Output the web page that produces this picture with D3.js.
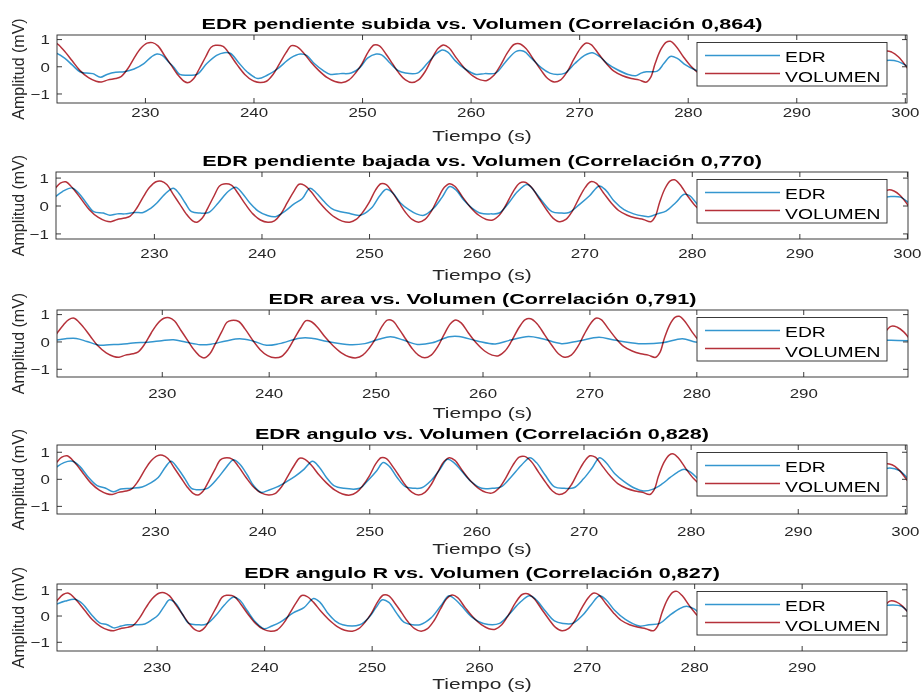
<!DOCTYPE html>
<html>
<head>
<meta charset="utf-8">
<script src="https://cdn.jsdelivr.net/npm/d3@7"></script>
<style>
  html, body { margin: 0; padding: 0; background: #fff; }
  svg { display: block; font-family: "Liberation Sans", Arial, Helvetica, sans-serif; }
</style>
</head>
<body>
<svg id="fig" width="923" height="693"></svg>
<script>
// ---------- data ----------
const panelTitles = [
  "EDR pendiente subida vs. Volumen (Correlación 0,864)",
  "EDR pendiente bajada vs. Volumen (Correlación 0,770)",
  "EDR area vs. Volumen (Correlación 0,791)",
  "EDR angulo vs. Volumen (Correlación 0,828)",
  "EDR angulo R vs. Volumen (Correlación 0,827)"
];
const seriesNames = ["EDR", "VOLUMEN"];
const xLabel = "Tiempo (s)";
const yLabel = "Amplitud (mV)";
const xTicks = [230, 240, 250, 260, 270, 280, 290, 300];
const yTicks = [-1, 0, 1];

// visible time window (s) and amplitude window (mV) of each subplot
const timeWindows = [[221.9, 300.2], [220.9, 300.1], [220.2, 299.8], [220.85, 300.2], [220.73, 299.8]];
const ampWindows = [[-1.35, 1.15], [-1.2, 1.2], [-1.3, 1.15], [-1.3, 1.25], [-1.35, 1.2]];

// respiratory volume signal [time s, amplitude]
const volumen = [
  [220.0,0.2],[220.2,0.3],[220.8,0.6],[221.3,0.8],[221.8,0.85],[222.5,0.6],[223.3,0.2],[224.0,-0.15],
  [224.8,-0.42],[225.5,-0.55],[226.0,-0.58],[226.6,-0.5],[227.3,-0.45],[227.8,-0.38],[228.4,-0.1],
  [229.0,0.3],[229.6,0.65],[230.2,0.85],[230.7,0.87],[231.2,0.75],[231.8,0.4],[232.4,0.05],[233.0,-0.3],
  [233.6,-0.55],[234.0,-0.6],[234.5,-0.45],[235.0,-0.1],[235.6,0.35],[236.1,0.7],[236.5,0.77],[237.2,0.73],
  [237.8,0.45],[238.5,0.05],[239.2,-0.3],[239.9,-0.52],[240.6,-0.6],[241.2,-0.55],[241.8,-0.3],[242.4,0.1],
  [243.0,0.5],[243.5,0.76],[244.0,0.72],[244.6,0.5],[245.3,0.15],[246.0,-0.15],[246.8,-0.42],[247.5,-0.56],
  [248.2,-0.6],[248.8,-0.5],[249.4,-0.25],[250.0,0.1],[250.6,0.55],[251.1,0.78],[251.6,0.75],[252.2,0.45],
  [252.8,0.1],[253.4,-0.25],[254.0,-0.5],[254.6,-0.6],[255.2,-0.5],[255.8,-0.2],[256.4,0.25],[257.0,0.65],
  [257.5,0.78],[258.0,0.68],[258.7,0.3],[259.4,-0.05],[260.2,-0.35],[260.9,-0.5],[261.5,-0.52],[262.1,-0.35],
  [262.7,0.0],[263.4,0.5],[264.0,0.8],[264.5,0.83],[265.1,0.65],[265.8,0.25],[266.5,-0.15],[267.1,-0.45],
  [267.7,-0.58],[268.3,-0.5],[268.9,-0.2],[269.5,0.25],[270.1,0.65],[270.6,0.85],[271.1,0.8],[271.8,0.45],
  [272.5,0.1],[273.2,-0.18],[274.0,-0.35],[274.8,-0.45],[275.5,-0.5],[276.2,-0.58],[276.6,-0.4],[277.0,0.1],
  [277.5,0.6],[278.0,0.88],[278.4,0.92],[278.9,0.75],[279.6,0.35],[280.3,0.0],[281.0,-0.25],[282.0,-0.45],
  [283.5,-0.5],[285.0,0.0],[286.5,0.55],[288.0,0.1],[289.5,-0.45],[291.0,-0.2],[292.5,0.5],[294.0,0.1],
  [295.5,-0.45],[297.0,0.0],[298.2,0.55],[298.8,0.52],[299.4,0.35],[300.3,-0.1]
];

// ECG-derived respiration, one signal per method [time s, amplitude]
const edrSubida = [
  [221.5,0.5],[221.9,0.47],[222.6,0.3],[223.3,0.05],[224.0,-0.2],[224.6,-0.25],[225.2,-0.27],[225.9,-0.4],
  [226.5,-0.3],[227.3,-0.22],[228.1,-0.2],[229.0,-0.1],[229.9,0.1],[230.6,0.35],[231.1,0.45],[231.6,0.4],
  [232.2,0.15],[232.7,-0.05],[233.2,-0.3],[234.0,-0.33],[234.8,-0.3],[235.7,0.1],[236.6,0.4],[237.3,0.5],
  [237.9,0.47],[238.6,0.15],[239.4,-0.2],[240.4,-0.45],[241.3,-0.32],[242.2,-0.1],[243.4,0.3],[244.3,0.45],
  [244.9,0.4],[245.6,0.1],[246.4,-0.15],[247.1,-0.3],[248.0,-0.27],[249.0,-0.25],[249.8,-0.05],[250.5,0.3],
  [251.3,0.45],[251.8,0.42],[252.5,0.15],[253.3,-0.15],[254.0,-0.25],[255.1,-0.25],[256.0,0.1],[256.8,0.45],
  [257.4,0.6],[257.9,0.52],[258.6,0.2],[259.5,-0.1],[260.5,-0.3],[261.3,-0.27],[262.3,-0.25],[263.2,0.15],
  [264.2,0.55],[264.9,0.55],[265.6,0.3],[266.5,-0.05],[267.3,-0.25],[268.0,-0.3],[268.7,-0.25],[269.6,0.1],
  [270.5,0.4],[271.2,0.5],[271.9,0.35],[272.6,0.1],[273.4,-0.1],[274.5,-0.3],[275.2,-0.35],[275.7,-0.25],
  [276.2,-0.2],[277.2,-0.18],[277.8,0.1],[278.4,0.36],[279.0,0.3],[279.8,0.05],[280.5,-0.1],[281.2,-0.2],
  [283.0,-0.1],[286.0,0.3],[289.0,-0.1],[292.0,0.25],[295.0,-0.1],[297.5,0.15],[298.6,0.22],[299.4,0.17],
  [300.3,-0.02]
];
const edrBajada = [
  [220.8,0.3],[221.5,0.5],[222.4,0.63],[223.0,0.45],[223.7,0.1],[224.4,-0.22],[225.3,-0.27],[225.9,-0.35],
  [226.6,-0.3],[227.3,-0.3],[228.2,-0.25],[229.0,-0.25],[229.7,-0.1],[230.3,0.1],[231.0,0.4],[231.8,0.62],
  [232.3,0.45],[232.9,0.1],[233.5,-0.22],[234.3,-0.27],[235.1,-0.25],[236.0,0.1],[236.9,0.5],[237.6,0.65],
  [238.2,0.45],[238.9,0.1],[239.7,-0.2],[240.5,-0.35],[241.3,-0.4],[242.2,-0.2],[243.0,0.05],[243.8,0.25],
  [244.5,0.62],[245.1,0.45],[245.8,0.15],[246.5,-0.1],[247.1,-0.2],[248.0,-0.27],[249.2,-0.35],[250.2,-0.1],
  [251.0,0.35],[251.6,0.58],[252.2,0.45],[252.9,0.1],[253.7,-0.15],[254.4,-0.3],[255.1,-0.35],[256.0,-0.1],
  [256.8,0.3],[257.5,0.68],[258.1,0.55],[258.8,0.2],[259.6,-0.1],[260.4,-0.28],[261.3,-0.3],[262.1,-0.27],
  [263.0,0.1],[263.8,0.5],[264.7,0.75],[265.3,0.55],[266.1,0.15],[267.0,-0.22],[267.8,-0.27],[268.6,-0.25],
  [269.6,0.05],[270.5,0.35],[271.4,0.7],[272.0,0.55],[272.8,0.15],[273.7,-0.15],[274.6,-0.3],[275.5,-0.38],
  [276.0,-0.4],[276.8,-0.3],[277.6,-0.2],[278.5,0.1],[279.3,0.4],[279.8,0.35],[280.5,0.05],[281.2,-0.2],
  [283.0,-0.1],[286.0,0.3],[289.0,-0.1],[292.0,0.3],[295.0,-0.1],[297.5,0.25],[298.5,0.32],[299.4,0.3],
  [300.3,0.05]
];
const edrArea = [
  [220.1,0.05],[221.0,0.1],[222.0,0.11],[223.0,0.0],[224.2,-0.14],[225.1,-0.12],[226.2,-0.1],[227.3,-0.06],
  [228.9,-0.02],[230.0,0.03],[231.1,0.06],[232.3,-0.03],[233.6,-0.12],[234.6,-0.1],[236.0,0.02],[237.3,0.1],
  [238.5,0.02],[239.8,-0.14],[241.0,-0.08],[242.9,0.12],[244.0,0.12],[245.5,0.0],[247.6,-0.12],[249.0,-0.08],
  [250.3,0.08],[251.4,0.17],[252.6,0.05],[253.9,-0.11],[255.3,-0.05],[256.9,0.17],[257.8,0.18],[259.5,0.02],
  [261.2,-0.09],[262.6,0.05],[264.3,0.18],[265.6,0.1],[267.4,-0.08],[269.0,0.02],[270.9,0.15],[272.3,0.05],
  [274.6,-0.08],[276.8,-0.05],[278.7,0.1],[279.9,-0.02],[281.0,-0.05],[285.0,0.08],[290.0,-0.05],[295.0,0.08],
  [298.2,0.04],[300.0,0.02]
];
const edrAngulo = [
  [220.7,0.4],[221.5,0.6],[222.3,0.65],[223.0,0.45],[223.8,0.05],[224.6,-0.25],[225.4,-0.35],[226.1,-0.48],
  [226.8,-0.38],[227.8,-0.35],[228.8,-0.3],[229.6,-0.15],[230.3,0.05],[231.0,0.45],[231.5,0.65],[232.1,0.4],
  [232.8,0.0],[233.4,-0.35],[234.2,-0.4],[234.9,-0.35],[235.8,0.0],[236.6,0.4],[237.3,0.7],[237.9,0.55],
  [238.6,0.15],[239.2,-0.25],[239.9,-0.5],[240.6,-0.42],[241.4,-0.3],[242.3,-0.1],[243.1,0.1],[243.9,0.35],
  [244.7,0.65],[245.3,0.45],[246.0,0.05],[246.7,-0.25],[247.6,-0.35],[249.1,-0.35],[249.9,-0.05],[250.7,0.3],
  [251.3,0.6],[251.9,0.45],[252.6,0.05],[253.4,-0.3],[254.2,-0.35],[254.9,-0.33],[255.8,-0.05],[256.6,0.35],
  [257.3,0.72],[257.9,0.6],[258.6,0.3],[259.5,-0.1],[260.5,-0.35],[261.5,-0.35],[262.3,-0.3],[263.2,0.05],
  [264.2,0.5],[265.0,0.78],[265.6,0.6],[266.4,0.15],[267.3,-0.3],[268.2,-0.35],[269.1,-0.33],[270.0,0.0],
  [270.8,0.4],[271.5,0.78],[272.1,0.6],[272.9,0.2],[273.8,-0.1],[274.8,-0.35],[275.6,-0.45],[276.5,-0.38],
  [277.3,-0.2],[278.1,0.05],[278.8,0.25],[279.4,0.35],[280.0,0.25],[280.8,-0.05],[281.3,-0.2],[283.0,-0.1],
  [286.0,0.35],[289.0,-0.1],[292.0,0.35],[295.0,-0.1],[297.5,0.3],[298.6,0.4],[299.5,0.3],[300.3,0.0]
];
const edrAnguloR = [
  [220.6,0.42],[221.5,0.55],[222.4,0.62],[223.1,0.45],[223.9,0.05],[224.7,-0.28],[225.4,-0.35],[226.0,-0.47],
  [226.7,-0.4],[227.3,-0.35],[228.1,-0.35],[228.9,-0.32],[229.6,-0.15],[230.1,0.0],[230.7,0.35],[231.2,0.6],
  [231.8,0.45],[232.4,0.05],[233.0,-0.3],[233.8,-0.35],[234.6,-0.33],[235.5,0.0],[236.3,0.4],[237.1,0.7],
  [237.7,0.6],[238.4,0.2],[239.2,-0.25],[240.0,-0.5],[240.7,-0.4],[241.5,-0.25],[242.7,0.1],[243.7,0.3],
  [244.6,0.65],[245.2,0.5],[245.9,0.1],[246.6,-0.2],[247.3,-0.35],[248.9,-0.35],[249.8,-0.05],[250.4,0.3],
  [251.0,0.6],[251.6,0.5],[252.3,0.1],[253.0,-0.25],[253.8,-0.35],[254.5,-0.35],[255.5,-0.1],[256.4,0.35],
  [257.2,0.75],[257.8,0.6],[258.4,0.35],[259.3,-0.05],[260.4,-0.3],[261.9,-0.3],[262.8,0.05],[263.8,0.5],
  [264.7,0.75],[265.3,0.6],[266.2,0.15],[267.0,-0.2],[267.8,-0.3],[268.7,-0.3],[269.6,0.0],[270.4,0.4],
  [271.2,0.75],[271.8,0.6],[272.6,0.2],[273.6,-0.15],[274.9,-0.4],[275.8,-0.35],[276.8,-0.3],[277.7,0.0],
  [278.6,0.25],[279.3,0.35],[280.0,0.25],[280.7,0.0],[281.3,-0.2],[283.0,-0.1],[286.0,0.35],[289.0,-0.1],
  [292.0,0.35],[295.0,-0.1],[297.5,0.35],[298.5,0.4],[299.3,0.35],[300.0,0.1]
];
const edrSeries = [edrSubida, edrBajada, edrArea, edrAngulo, edrAnguloR];

// ---------- layout ----------
const boxes = [
  { top: 35,  bottom: 103, left: 57, right: 907 },
  { top: 172, bottom: 239, left: 56, right: 908 },
  { top: 310, bottom: 377, left: 57, right: 908 },
  { top: 445, bottom: 514, left: 57, right: 907 },
  { top: 584, bottom: 651, left: 57, right: 907 }
];
const tickLabelGap = [14, 19, 21, 22, 21];
const xLabelGap = [38, 41, 41, 40, 38];

const ink = "#262626";
const edrColor = "#3496cf";
const volColor = "#b5313a";
const lineWidth = 1.5;

// horizontal stretch of the typeset text
const titleSX = 1.44, tickSX = 1.25, labelSX = 1.4, legendSX = 1.38;

const svg = d3.select("#fig");
const defs = svg.append("defs");

function stretchedText(parent, x, y, str, size, sx, opts = {}) {
  return parent.append("text")
    .attr("transform", `translate(${x},${y}) ${opts.rotate ? "rotate(" + opts.rotate + ") " : ""}scale(${sx},1)`)
    .attr("text-anchor", opts.anchor || "middle")
    .attr("font-size", size)
    .attr("font-weight", opts.bold ? "bold" : "normal")
    .attr("fill", opts.fill || ink)
    .text(str);
}

panelTitles.forEach((title, i) => {
  const b = boxes[i];
  const x = d3.scaleLinear().domain(timeWindows[i]).range([b.left, b.right]);
  const y = d3.scaleLinear().domain(ampWindows[i]).range([b.bottom, b.top]);
  const g = svg.append("g").attr("class", "subplot");

  // plot area clip
  const clipId = "clip-" + i;
  defs.append("clipPath").attr("id", clipId)
    .append("rect")
    .attr("x", b.left).attr("y", b.top)
    .attr("width", b.right - b.left).attr("height", b.bottom - b.top);

  const line = d3.line()
    .x(d => x(d[0]))
    .y(d => y(d[1]))
    .curve(d3.curveCatmullRom.alpha(0.5));

  const plot = g.append("g").attr("clip-path", `url(#${clipId})`).style("isolation", "isolate");
  plot.append("path")
    .datum(edrSeries[i])
    .attr("d", line)
    .attr("fill", "none")
    .attr("stroke", edrColor)
    .attr("stroke-width", lineWidth)
    .style("mix-blend-mode", "multiply");
  plot.append("path")
    .datum(volumen)
    .attr("d", line)
    .attr("fill", "none")
    .attr("stroke", volColor)
    .attr("stroke-width", lineWidth)
    .style("mix-blend-mode", "multiply");

  // axes with inward ticks on all four sides
  const [t0, t1] = timeWindows[i];
  const xt = xTicks.filter(t => t >= t0 && t <= t1);
  const bottomAxis = g.append("g")
    .attr("transform", `translate(0,${b.bottom})`)
    .call(d3.axisBottom(x).tickValues(xt).tickSize(-5).tickFormat(d3.format("d")));
  const topAxis = g.append("g")
    .attr("transform", `translate(0,${b.top})`)
    .call(d3.axisTop(x).tickValues(xt).tickSize(-5).tickFormat(""));
  const leftAxis = g.append("g")
    .attr("transform", `translate(${b.left},0)`)
    .call(d3.axisLeft(y).tickValues(yTicks).tickSize(-5).tickFormat(d3.format("d")));
  const rightAxis = g.append("g")
    .attr("transform", `translate(${b.right},0)`)
    .call(d3.axisRight(y).tickValues(yTicks).tickSize(-5).tickFormat(""));

  [bottomAxis, topAxis, leftAxis, rightAxis].forEach(a => {
    a.select(".domain").remove();
    a.selectAll(".tick line").attr("stroke", ink).attr("stroke-width", 0.9);
  });
  bottomAxis.selectAll(".tick text")
    .attr("y", null).attr("dy", null)
    .attr("transform", `translate(0,${tickLabelGap[i]}) scale(${tickSX},1)`)
    .attr("font-size", 13.5)
    .attr("font-family", null)
    .attr("fill", ink);
  leftAxis.selectAll(".tick text")
    .attr("x", null)
    .attr("dy", "0.36em")
    .attr("transform", `translate(-7,0) scale(${tickSX},1)`)
    .attr("font-size", 13.5)
    .attr("font-family", null)
    .attr("fill", ink);
  topAxis.selectAll(".tick text").remove();
  rightAxis.selectAll(".tick text").remove();

  // axes box
  g.append("rect")
    .attr("x", b.left).attr("y", b.top)
    .attr("width", b.right - b.left).attr("height", b.bottom - b.top)
    .attr("fill", "none").attr("stroke", ink).attr("stroke-width", 0.9);

  // title and axis labels
  const cx = (b.left + b.right) / 2;
  stretchedText(g, cx, b.top - 6, title, 15, titleSX, { bold: true, fill: "#000" });
  stretchedText(g, cx, b.bottom + xLabelGap[i], xLabel, 15, labelSX);
  stretchedText(g, 24, (b.top + b.bottom) / 2, yLabel, 16, 1.0, { rotate: -90 });

  // legend
  const L = { x: 697, y: b.top + 7.5, w: 190, h: 43.5 };
  const lg = g.append("g").attr("class", "legend");
  lg.append("rect")
    .attr("x", L.x).attr("y", L.y).attr("width", L.w).attr("height", L.h)
    .attr("fill", "#fff").attr("stroke", ink).attr("stroke-width", 0.9);
  const entries = [
    { name: seriesNames[0], color: edrColor, lineY: 13, textY: 19 },
    { name: seriesNames[1], color: volColor, lineY: 31, textY: 39.5 }
  ];
  entries.forEach(e => {
    lg.append("line")
      .attr("x1", L.x + 8).attr("x2", L.x + 83)
      .attr("y1", L.y + e.lineY).attr("y2", L.y + e.lineY)
      .attr("stroke", e.color).attr("stroke-width", lineWidth);
    stretchedText(lg, L.x + 88, L.y + e.textY, e.name, 14, legendSX, { anchor: "start", fill: "#000" });
  });
});
</script>
</body>
</html>
